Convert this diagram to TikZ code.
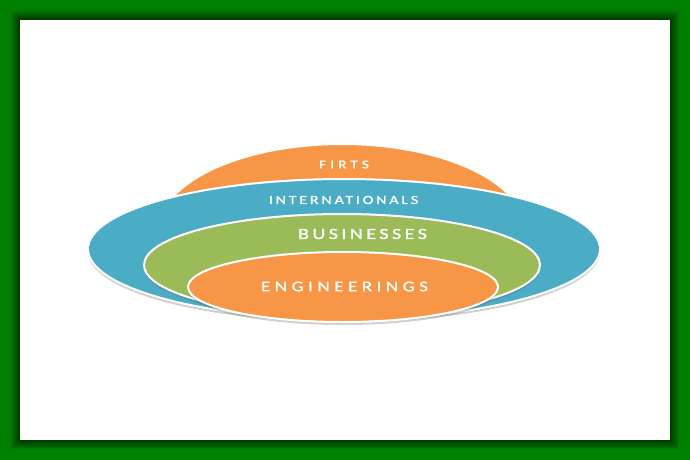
\documentclass[tikz,border=0pt]{standalone}
\usepackage{fontspec}
\usetikzlibrary{shapes.geometric,shadows}
\newfontfamily\labfont[FakeStretch=1.3,FakeBold=1.2]{Carlito}
\definecolor{frameg}{RGB}{0,128,0}
\definecolor{offorange}{RGB}{247,150,70}
\definecolor{offblue}{RGB}{75,172,198}
\definecolor{offgreen}{RGB}{155,187,89}
\tikzset{
  ring/.style={ellipse, draw=white, line width=2pt, inner sep=0pt,
    drop shadow={shadow xshift=0pt, shadow yshift=-3pt, opacity=0.3, fill=black!60}},
  lab/.style={text=white, inner sep=0pt, anchor=center}
}
\begin{document}
\begin{tikzpicture}[x=1pt,y=-1pt]
\useasboundingbox (0,0) rectangle (690,460);
\fill[frameg] (0,0) rectangle (690,460);
\foreach \i in {1,...,9}{
  \fill[black, opacity=0.07] ({20-\i},{20-\i}) rectangle ({670+\i},{440+\i});
}
\fill[white] (20,20) rectangle (670,440);
% ellipses
\node[ring, fill=offorange, minimum width=366pt, minimum height=172pt] (firts) at (342,230) {};
\node[ring, fill=offblue, minimum width=512pt, minimum height=140pt] (intl) at (344,249) {};
\node[ring, fill=offgreen, minimum width=396pt, minimum height=102pt] (bus) at (342,265) {};
\node[ring, fill=offorange, minimum width=310pt, minimum height=70pt] (eng) at (343,287) {};
% labels
\node[lab, font=\labfont\fontsize{12}{12}\selectfont\addfontfeatures{LetterSpace=33}] (tfirts) at (344,164.5) {FIRTS};
\node[lab, font=\labfont\fontsize{12.4}{12.4}\selectfont\addfontfeatures{LetterSpace=22}] (tintl) at (343.5,200) {INTERNATIONALS};
\node[lab, font=\labfont\fontsize{15.5}{15.5}\selectfont\addfontfeatures{LetterSpace=22}] (tbus) at (362.5,234) {BUSINESSES};
\node[lab, font=\labfont\fontsize{14.75}{14.75}\selectfont\addfontfeatures{LetterSpace=30}] (teng) at (344.5,286.5) {ENGINEERINGS};
\end{tikzpicture}
\end{document}
